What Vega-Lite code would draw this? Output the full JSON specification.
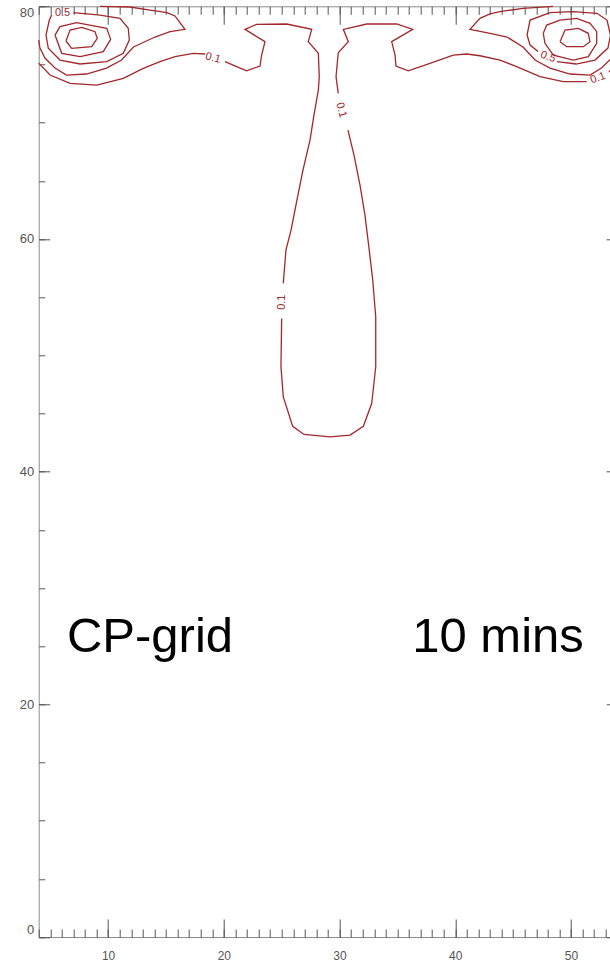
{
  "$schema": "https://vega.github.io/schema/vega-lite/v6.json",
  "width": 578.5,
  "height": 930.7,
  "autosize": {"type": "none"},
  "padding": {"left": 38.7, "top": 6.3, "right": 0, "bottom": 26},
  "background": "white",
  "config": {
    "view": {"stroke": "#8c8c8c", "strokeWidth": 1},
    "axis": {"domain": false, "grid": false, "title": null, "tickColor": "#555555", "tickWidth": 1, "labelColor": "#555555", "labelFont": "Liberation Sans", "labelFontSize": 12}
  },
  "datasets": {
    "contours": [
      {"c":"L1","o":0,"x":6.36,"y":77.02},{"c":"L1","o":1,"x":6.71,"y":77.96},{"c":"L1","o":2,"x":7.72,"y":78.19},{"c":"L1","o":3,"x":8.87,"y":77.82},{"c":"L1","o":4,"x":9.06,"y":77.25},{"c":"L1","o":5,"x":8.58,"y":76.53},{"c":"L1","o":6,"x":6.85,"y":76.39},{"c":"L1","o":7,"x":6.36,"y":77.02},
      {"c":"L2","o":0,"x":5.41,"y":77.53},{"c":"L2","o":1,"x":5.84,"y":78.25},{"c":"L2","o":2,"x":7.28,"y":78.59},{"c":"L2","o":3,"x":9.88,"y":78.11},{"c":"L2","o":4,"x":10.22,"y":77.16},{"c":"L2","o":5,"x":9.58,"y":76.10},{"c":"L2","o":6,"x":7.57,"y":75.67},{"c":"L2","o":7,"x":5.99,"y":75.96},{"c":"L2","o":8,"x":5.41,"y":77.53},
      {"c":"L3","o":0,"x":6.99,"y":79.45},{"c":"L3","o":1,"x":9.30,"y":79.25},{"c":"L3","o":2,"x":11.03,"y":78.97},{"c":"L3","o":3,"x":11.74,"y":78.11},{"c":"L3","o":4,"x":11.83,"y":77.10},{"c":"L3","o":5,"x":11.31,"y":75.96},{"c":"L3","o":6,"x":9.88,"y":75.24},{"c":"L3","o":7,"x":7.57,"y":75.04},{"c":"L3","o":8,"x":5.84,"y":75.38},{"c":"L3","o":9,"x":4.83,"y":76.39},{"c":"L3","o":10,"x":4.63,"y":77.53},{"c":"L3","o":11,"x":4.92,"y":78.82},{"c":"L3","o":12,"x":5.12,"y":79.25},
      {"c":"L4","o":0,"x":9.30,"y":80.0},{"c":"L4","o":1,"x":11.89,"y":79.94},{"c":"L4","o":2,"x":13.62,"y":79.68},{"c":"L4","o":3,"x":15.09,"y":79.45},{"c":"L4","o":4,"x":15.78,"y":79.17},{"c":"L4","o":5,"x":16.64,"y":78.02},{"c":"L4","o":6,"x":15.35,"y":77.82},{"c":"L4","o":7,"x":14.05,"y":77.36},{"c":"L4","o":8,"x":12.19,"y":76.50},{"c":"L4","o":9,"x":11.16,"y":75.38},{"c":"L4","o":10,"x":9.86,"y":74.69},{"c":"L4","o":11,"x":8.13,"y":74.18},{"c":"L4","o":12,"x":6.40,"y":74.09},{"c":"L4","o":13,"x":5.41,"y":74.69},{"c":"L4","o":14,"x":4.54,"y":75.55},{"c":"L4","o":15,"x":4.11,"y":76.41},{"c":"L4","o":16,"x":4.00,"y":77.10},
      {"c":"L5a","o":0,"x":4.00,"y":75.12},{"c":"L5a","o":1,"x":4.98,"y":74.09},{"c":"L5a","o":2,"x":6.71,"y":73.38},{"c":"L5a","o":3,"x":9.01,"y":73.23},{"c":"L5a","o":4,"x":11.31,"y":73.81},{"c":"L5a","o":5,"x":13.04,"y":74.67},{"c":"L5a","o":6,"x":14.48,"y":75.24},{"c":"L5a","o":7,"x":15.78,"y":75.68},{"c":"L5a","o":8,"x":17.36,"y":75.96},{"c":"L5a","o":9,"x":18.37,"y":75.90},
      {"c":"L5b","o":0,"x":20.10,"y":75.24},{"c":"L5b","o":1,"x":21.11,"y":74.81},{"c":"L5b","o":2,"x":21.98,"y":74.46},{"c":"L5b","o":3,"x":23.13,"y":74.87},{"c":"L5b","o":4,"x":23.27,"y":75.81},{"c":"L5b","o":5,"x":23.56,"y":76.96},{"c":"L5b","o":6,"x":21.83,"y":78.02},{"c":"L5b","o":7,"x":22.84,"y":78.45},{"c":"L5b","o":8,"x":25.43,"y":78.48},{"c":"L5b","o":9,"x":27.60,"y":78.02},{"c":"L5b","o":10,"x":27.30,"y":76.96},{"c":"L5b","o":11,"x":28.17,"y":75.96},{"c":"L5b","o":12,"x":28.25,"y":73.95},{"c":"L5b","o":13,"x":28.17,"y":72.80},{"c":"L5b","o":14,"x":27.79,"y":70.65},{"c":"L5b","o":15,"x":27.45,"y":68.50},{"c":"L5b","o":16,"x":26.84,"y":65.92},{"c":"L5b","o":17,"x":26.32,"y":63.34},{"c":"L5b","o":18,"x":25.81,"y":60.76},{"c":"L5b","o":19,"x":25.37,"y":59.04},{"c":"L5b","o":20,"x":25.14,"y":56.18},
      {"c":"L5c","o":0,"x":25.00,"y":53.17},{"c":"L5c","o":1,"x":24.94,"y":49.01},{"c":"L5c","o":2,"x":25.14,"y":46.43},{"c":"L5c","o":3,"x":25.95,"y":43.90},{"c":"L5c","o":4,"x":26.93,"y":43.20},{"c":"L5c","o":5,"x":29.18,"y":42.99},{"c":"L5c","o":6,"x":30.91,"y":43.14},{"c":"L5c","o":7,"x":32.06,"y":43.90},{"c":"L5c","o":8,"x":32.78,"y":45.85},{"c":"L5c","o":9,"x":33.13,"y":49.01},{"c":"L5c","o":10,"x":33.13,"y":53.31},{"c":"L5c","o":11,"x":32.87,"y":56.47},{"c":"L5c","o":12,"x":32.57,"y":59.04},{"c":"L5c","o":13,"x":32.20,"y":62.05},{"c":"L5c","o":14,"x":31.77,"y":64.63},{"c":"L5c","o":15,"x":31.25,"y":67.21},{"c":"L5c","o":16,"x":30.73,"y":69.36},
      {"c":"L5d","o":0,"x":29.89,"y":72.52},{"c":"L5d","o":1,"x":29.70,"y":73.95},{"c":"L5d","o":2,"x":29.89,"y":76.01},{"c":"L5d","o":3,"x":30.76,"y":76.96},{"c":"L5d","o":4,"x":30.33,"y":78.02},{"c":"L5d","o":5,"x":32.35,"y":78.48},{"c":"L5d","o":6,"x":34.94,"y":78.48},{"c":"L5d","o":7,"x":36.33,"y":78.02},{"c":"L5d","o":8,"x":34.51,"y":76.96},{"c":"L5d","o":9,"x":34.80,"y":75.81},{"c":"L5d","o":10,"x":34.88,"y":74.87},{"c":"L5d","o":11,"x":35.94,"y":74.46},{"c":"L5d","o":12,"x":37.82,"y":75.10},{"c":"L5d","o":13,"x":39.83,"y":75.81},{"c":"L5d","o":14,"x":40.99,"y":75.90},{"c":"L5d","o":15,"x":42.14,"y":75.75},{"c":"L5d","o":16,"x":43.87,"y":75.38},{"c":"L5d","o":17,"x":45.31,"y":74.81},{"c":"L5d","o":18,"x":47.33,"y":73.95},{"c":"L5d","o":19,"x":49.34,"y":73.52},{"c":"L5d","o":20,"x":51.36,"y":73.52},
      {"c":"L5e","o":0,"x":53.29,"y":74.35},{"c":"L5e","o":1,"x":54.04,"y":75.12},
      {"c":"R1","o":0,"x":49.06,"y":76.96},{"c":"R1","o":1,"x":49.49,"y":77.96},{"c":"R1","o":2,"x":50.64,"y":78.11},{"c":"R1","o":3,"x":51.50,"y":77.68},{"c":"R1","o":4,"x":51.65,"y":76.96},{"c":"R1","o":5,"x":51.07,"y":76.53},{"c":"R1","o":6,"x":49.64,"y":76.53},{"c":"R1","o":7,"x":49.06,"y":76.96},
      {"c":"R2","o":0,"x":47.61,"y":77.68},{"c":"R2","o":1,"x":47.91,"y":78.39},{"c":"R2","o":2,"x":49.06,"y":78.82},{"c":"R2","o":3,"x":50.50,"y":78.97},{"c":"R2","o":4,"x":51.65,"y":78.54},{"c":"R2","o":5,"x":52.23,"y":77.82},{"c":"R2","o":6,"x":52.23,"y":76.82},{"c":"R2","o":7,"x":51.50,"y":75.67},{"c":"R2","o":8,"x":50.21,"y":75.38},{"c":"R2","o":9,"x":48.48,"y":75.81},{"c":"R2","o":10,"x":47.76,"y":76.82},{"c":"R2","o":11,"x":47.61,"y":77.68},
      {"c":"R3","o":0,"x":48.80,"y":75.25},{"c":"R3","o":1,"x":50.44,"y":75.04},{"c":"R3","o":2,"x":52.08,"y":75.38},{"c":"R3","o":3,"x":53.20,"y":76.41},{"c":"R3","o":4,"x":53.42,"y":77.53},{"c":"R3","o":5,"x":53.12,"y":78.82},{"c":"R3","o":6,"x":52.25,"y":79.40},{"c":"R3","o":7,"x":50.18,"y":79.54},{"c":"R3","o":8,"x":48.19,"y":79.45},{"c":"R3","o":9,"x":46.47,"y":78.82},{"c":"R3","o":10,"x":46.21,"y":77.53},{"c":"R3","o":11,"x":46.47,"y":76.67},{"c":"R3","o":12,"x":47.16,"y":76.11},
      {"c":"R4","o":0,"x":48.45,"y":80.0},{"c":"R4","o":1,"x":45.86,"y":79.83},{"c":"R4","o":2,"x":43.87,"y":79.54},{"c":"R4","o":3,"x":43.01,"y":79.34},{"c":"R4","o":4,"x":42.14,"y":78.97},{"c":"R4","o":5,"x":41.28,"y":78.02},{"c":"R4","o":6,"x":43.01,"y":77.68},{"c":"R4","o":7,"x":44.48,"y":77.36},{"c":"R4","o":8,"x":45.86,"y":76.50},{"c":"R4","o":9,"x":46.90,"y":75.38},{"c":"R4","o":10,"x":48.19,"y":74.69},{"c":"R4","o":11,"x":49.92,"y":74.18},{"c":"R4","o":12,"x":51.65,"y":74.09},{"c":"R4","o":13,"x":52.64,"y":74.69},{"c":"R4","o":14,"x":53.51,"y":75.55},{"c":"R4","o":15,"x":53.94,"y":76.41},{"c":"R4","o":16,"x":54.04,"y":77.10}
    ],
    "labels": [
      {"id":1,"t":"0.5","x":6.06,"y":79.42},
      {"id":2,"t":"0.1","x":19.06,"y":75.55},
      {"id":3,"t":"0.1","x":25.03,"y":54.57},
      {"id":4,"t":"0.1","x":30.13,"y":71.08},
      {"id":5,"t":"0.5","x":48.02,"y":75.64},
      {"id":6,"t":"0.1","x":52.34,"y":73.83}
    ],
    "captions": [
      {"t":"CP-grid","x":13.62,"y":24.48},
      {"t":"10 mins","x":43.70,"y":24.48}
    ]
  },
  "data": {"name": "contours"},
  "resolve": {"axis": {"x": "independent", "y": "independent"}},
  "layer": [
    {
      "mark": {"type": "line", "color": "#a3282b", "strokeWidth": 1.3},
      "encoding": {
        "x": {"field": "x", "type": "quantitative", "scale": {"domain": [4, 54], "nice": false, "zero": false},
              "axis": {"orient": "bottom", "values": [10, 20, 30, 40, 50], "tickSize": -18, "labelPadding": 32, "labelFlush": false, "labelFontSize": 12}},
        "y": {"field": "y", "type": "quantitative", "scale": {"domain": [0, 80], "nice": false, "zero": false},
              "axis": {"orient": "left", "values": [0, 20, 40, 60, 80], "tickSize": -11, "labelPadding": 16, "labelFlush": true, "labelFontSize": 13}},
        "detail": {"field": "c"},
        "order": {"field": "o", "type": "quantitative"}
      }
    },
    {
      "mark": {"type": "point", "opacity": 0},
      "encoding": {
        "x": {"field": "x", "type": "quantitative", "scale": {"domain": [4, 54], "nice": false, "zero": false},
              "axis": {"orient": "bottom", "values": [4,5,6,7,8,9,10,11,12,13,14,15,16,17,18,19,20,21,22,23,24,25,26,27,28,29,30,31,32,33,34,35,36,37,38,39,40,41,42,43,44,45,46,47,48,49,50,51,52,53,54], "tickSize": -8, "labels": false}},
        "y": {"field": "y", "type": "quantitative", "scale": {"domain": [0, 80], "nice": false, "zero": false},
              "axis": {"orient": "left", "values": [0,5,10,15,20,25,30,35,40,45,50,55,60,65,70,75,80], "tickSize": -6, "labels": false}}
      }
    },
    {
      "mark": {"type": "point", "opacity": 0},
      "encoding": {
        "x": {"field": "x", "type": "quantitative", "scale": {"domain": [4, 54], "nice": false, "zero": false},
              "axis": {"orient": "top", "values": [10, 20, 30, 40, 50], "tickSize": -18, "labels": false}},
        "y": {"field": "y", "type": "quantitative", "scale": {"domain": [0, 80], "nice": false, "zero": false},
              "axis": {"orient": "right", "values": [0, 20, 40, 60, 80], "tickSize": -11, "labels": false}}
      }
    },
    {
      "mark": {"type": "point", "opacity": 0},
      "encoding": {
        "x": {"field": "x", "type": "quantitative", "scale": {"domain": [4, 54], "nice": false, "zero": false},
              "axis": {"orient": "top", "values": [4,5,6,7,8,9,10,11,12,13,14,15,16,17,18,19,20,21,22,23,24,25,26,27,28,29,30,31,32,33,34,35,36,37,38,39,40,41,42,43,44,45,46,47,48,49,50,51,52,53,54], "tickSize": -8, "labels": false}},
        "y": {"field": "y", "type": "quantitative", "scale": {"domain": [0, 80], "nice": false, "zero": false},
              "axis": {"orient": "right", "values": [0,5,10,15,20,25,30,35,40,45,50,55,60,65,70,75,80], "tickSize": -6, "labels": false}}
      }
    },
    {
      "data": {"name": "labels"},
      "transform": [{"filter": "datum.id == 1"}],
      "mark": {"type": "text", "angle": 0, "font": "Liberation Sans", "fontSize": 11, "color": "#a3282b", "align": "center", "baseline": "middle"},
      "encoding": {"x": {"field": "x", "type": "quantitative", "axis": null}, "y": {"field": "y", "type": "quantitative", "axis": null}, "text": {"field": "t"}}
    },
    {
      "data": {"name": "labels"},
      "transform": [{"filter": "datum.id == 2"}],
      "mark": {"type": "text", "angle": 15, "font": "Liberation Sans", "fontSize": 11, "color": "#a3282b", "align": "center", "baseline": "middle"},
      "encoding": {"x": {"field": "x", "type": "quantitative", "axis": null}, "y": {"field": "y", "type": "quantitative", "axis": null}, "text": {"field": "t"}}
    },
    {
      "data": {"name": "labels"},
      "transform": [{"filter": "datum.id == 3"}],
      "mark": {"type": "text", "angle": 270, "font": "Liberation Sans", "fontSize": 11, "color": "#a3282b", "align": "center", "baseline": "middle"},
      "encoding": {"x": {"field": "x", "type": "quantitative", "axis": null}, "y": {"field": "y", "type": "quantitative", "axis": null}, "text": {"field": "t"}}
    },
    {
      "data": {"name": "labels"},
      "transform": [{"filter": "datum.id == 4"}],
      "mark": {"type": "text", "angle": 75, "font": "Liberation Sans", "fontSize": 11, "color": "#a3282b", "align": "center", "baseline": "middle"},
      "encoding": {"x": {"field": "x", "type": "quantitative", "axis": null}, "y": {"field": "y", "type": "quantitative", "axis": null}, "text": {"field": "t"}}
    },
    {
      "data": {"name": "labels"},
      "transform": [{"filter": "datum.id == 5"}],
      "mark": {"type": "text", "angle": 20, "font": "Liberation Sans", "fontSize": 11, "color": "#a3282b", "align": "center", "baseline": "middle"},
      "encoding": {"x": {"field": "x", "type": "quantitative", "axis": null}, "y": {"field": "y", "type": "quantitative", "axis": null}, "text": {"field": "t"}}
    },
    {
      "data": {"name": "labels"},
      "transform": [{"filter": "datum.id == 6"}],
      "mark": {"type": "text", "angle": -20, "font": "Liberation Sans", "fontSize": 11, "color": "#a3282b", "align": "center", "baseline": "middle"},
      "encoding": {"x": {"field": "x", "type": "quantitative", "axis": null}, "y": {"field": "y", "type": "quantitative", "axis": null}, "text": {"field": "t"}}
    },
    {
      "data": {"name": "captions"},
      "mark": {"type": "text", "font": "Liberation Sans", "fontSize": 49, "color": "#000000", "align": "center", "baseline": "alphabetic"},
      "encoding": {"x": {"field": "x", "type": "quantitative", "axis": null}, "y": {"field": "y", "type": "quantitative", "axis": null}, "text": {"field": "t"}}
    }
  ]
}
